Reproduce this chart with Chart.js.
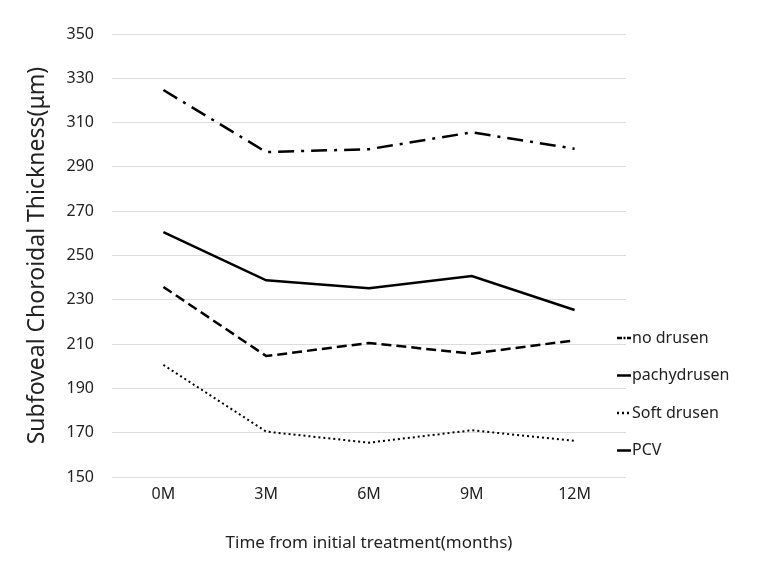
<!DOCTYPE html>
<html><head><meta charset="utf-8">
<script src="https://cdn.jsdelivr.net/npm/chart.js@4/dist/chart.umd.min.js"></script>
<style>html,body{margin:0;padding:0;background:#fff}#w{width:759px;height:571px}</style>
</head><body><div id="w"><canvas id="c" width="759" height="571"></canvas></div>
<script>
const categories = ["0M","3M","6M","9M","12M"];
const noDrusen = [324.7, 296.7, 298.0, 305.6, 298.2];
const pachydrusen = [260.6, 238.8, 235.2, 240.7, 225.4];
const pcv = [235.8, 204.6, 210.5, 205.7, 211.7];
const softDrusen = [200.6, 170.5, 165.5, 171.1, 166.3];
const yTicks = [150,170,190,210,230,250,270,290,310,330,350];
const legendOrder = ["no drusen","pachydrusen","Soft drusen","PCV"];

const FONT = "'Noto Sans', 'Open Sans', sans-serif";
const TXT = "#222";

const legendPlugin = {
  id: 'customLegend',
  afterDraw(chart) {
    const ctx = chart.ctx;
    const x0 = chart.chartArea.right - 9;
    const yStart = 338, step = 37.5;
    ctx.save();
    ctx.font = "16px " + FONT;
    ctx.fillStyle = TXT;
    ctx.textBaseline = "middle";
    legendOrder.forEach((name, i) => {
      const ds = chart.data.datasets.find(d => d.label === name);
      const y = yStart + i * step;
      ctx.strokeStyle = "#000";
      ctx.lineWidth = 2.5;
      ctx.setLineDash(ds.legendDash || []);
      ctx.beginPath(); ctx.moveTo(x0, y); ctx.lineTo(x0 + 14, y); ctx.stroke();
      ctx.setLineDash([]);
      ctx.fillText(name, x0 + 15, y);
    });
    ctx.restore();
  }
};

new Chart(document.getElementById('c'), {
  type: 'line',
  data: {
    labels: categories,
    datasets: [
      {label: "no drusen", data: noDrusen, borderDash: [16,7,3,7], legendDash: [5,1.5,2,1.5]},
      {label: "pachydrusen", data: pachydrusen, borderDash: []},
      {label: "Soft drusen", data: softDrusen, borderDash: [2,3], borderWidth: 2, legendDash: [2,3]},
      {label: "PCV", data: pcv, borderDash: [10,5], legendDash: []}
    ].map(d => Object.assign({borderColor: "#000", borderWidth: 2.5, pointRadius: 0, tension: 0, fill: false}, d))
  },
  options: {
    responsive: false,
    animation: false,
    devicePixelRatio: 1,
    layout: {padding: {left: 0, right: 133, top: 34, bottom: 14}},
    plugins: {legend: {display: false}, tooltip: {enabled: false}},
    scales: {
      x: {
        offset: true,
        grid: {display: false, drawTicks: false},
        border: {display: false},
        ticks: {color: TXT, font: {family: FONT, size: 16}, padding: 8},
        title: {display: true, text: "Time from initial treatment(months)", color: TXT, font: {family: FONT, size: 17}, padding: {top: 16}},
        afterFit(s) { s.height = 571 - 477 - 14; }
      },
      y: {
        min: 150, max: 350,
        afterBuildTicks(s) { s.ticks = yTicks.map(v => ({value: v})); },
        grid: {color: "#dcdcdc", lineWidth: 1, drawTicks: false},
        border: {display: false},
        ticks: {color: TXT, font: {family: FONT, size: 16}, padding: 18},
        title: {display: true, text: "Subfoveal Choroidal Thickness(μm)", color: TXT, font: {family: FONT, size: 23}, padding: {top: 24, bottom: 0}},
        afterFit(s) { s.width = 112; }
      }
    }
  },
  plugins: [legendPlugin]
});
</script></body></html>
